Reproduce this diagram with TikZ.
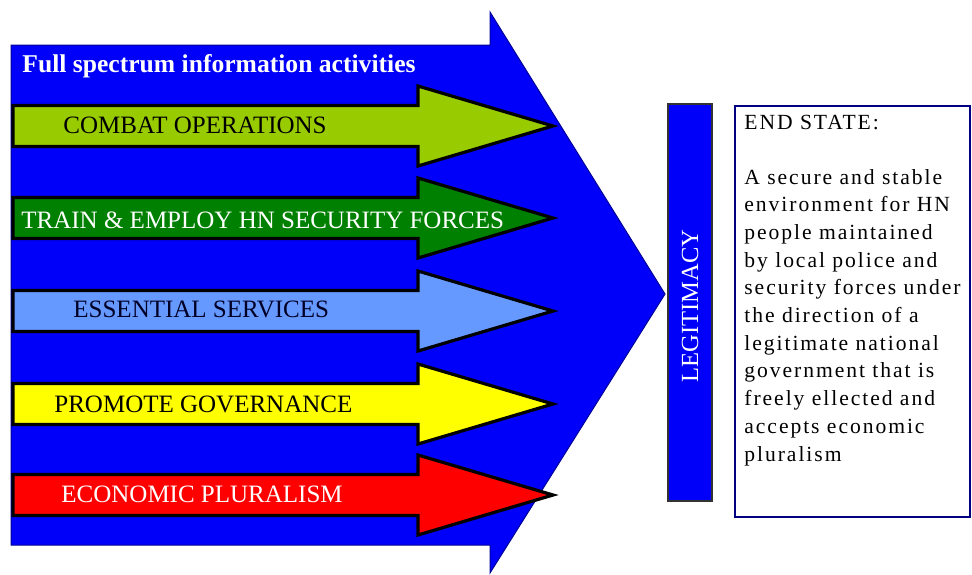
\documentclass[tikz,border=0pt]{standalone}
\usepackage{fontspec}
\setmainfont{Liberation Serif}
\newfontfamily\statefont[LetterSpace=9]{Liberation Serif}
\definecolor{bigblue}{RGB}{0,0,250}
\definecolor{combatgreen}{RGB}{153,204,0}
\definecolor{traingreen}{RGB}{0,128,0}
\definecolor{serviceblue}{RGB}{102,153,255}
\definecolor{govyellow}{RGB}{255,255,0}
\definecolor{econred}{RGB}{255,0,0}
\definecolor{boxnavy}{RGB}{0,0,128}
\tikzset{
	mainarrow/.style={fill=bigblue, draw=blue!60!black, line width=0.5pt},
	lineofop/.style={draw=black, line width=1.6pt, line join=miter},
	oplabel/.style={anchor=base west, inner sep=0pt, font=\fontsize{12.5}{15}\selectfont},
	statetext/.style={anchor=base west, inner sep=0pt, align=left, font=\statefont\fontsize{10.8}{13.85}\selectfont},
}
\def\oparrow[#1](#2){\draw[#1] (13,{#2-20.5}) -- (418,{#2-20.5}) -- (418,{#2-40}) -- (553,#2) -- (418,{#2+40}) -- (418,{#2+20.5}) -- (13,{#2+20.5}) -- cycle;}

\begin{document}
\begin{tikzpicture}[x=0.5pt, y=-0.5pt]
		%%%%% START %%%%%
		\useasboundingbox (0,0) rectangle (972,574);
		
		\draw[mainarrow] (11,45) -- (490,45) -- (490,12) -- (665,294) -- (490,573) -- (490,545) -- (11,545) -- cycle;
		\node[anchor=base west, inner sep=0pt, text=white, font=\fontsize{12.8}{15}\selectfont\bfseries] (fullspectrum) at (22,72) {Full spectrum information activities};
		
		\oparrow[lineofop, fill=combatgreen](126)
		\node[oplabel, text=black] (combat) at (63,133) {COMBAT OPERATIONS};
		
		\oparrow[lineofop, fill=traingreen](218)
		\node[oplabel, text=white] (train) at (21,228) {TRAIN \& EMPLOY HN SECURITY FORCES};
		
		\oparrow[lineofop, fill=serviceblue](311)
		\node[oplabel, text=black!85!blue] (services) at (73,317) {ESSENTIAL SERVICES};
		
		\oparrow[lineofop, fill=govyellow](404)
		\node[oplabel, text=black] (governance) at (54,412) {PROMOTE GOVERNANCE};
		
		\oparrow[lineofop, fill=econred](495)
		\node[oplabel, text=white] (pluralism) at (61,502) {ECONOMIC PLURALISM};
		
		\draw[fill=bigblue, draw=black!80, line width=1pt] (668,104) rectangle (712,501);
		\node[rotate=90, inner sep=0pt, text=white, font=\fontsize{12.3}{14}\selectfont] (legitimacy) at (690,306) {LEGITIMACY};
		
		\draw[fill=white, draw=boxnavy, line width=1.2pt] (735,106) rectangle (970,517);
		\node[statetext] (endstate) at (744,129) {END STATE:};
		% base of a multi-line node is its last line
		\node[statetext] (goal) at (744,461) {A secure and stable\\environment for HN\\people maintained\\by local police and\\security forces under\\the direction of a\\legitimate national\\government that is\\freely ellected and\\accepts economic\\pluralism};
		
		%%%%% END %%%%%
\end{tikzpicture}
\end{document}
